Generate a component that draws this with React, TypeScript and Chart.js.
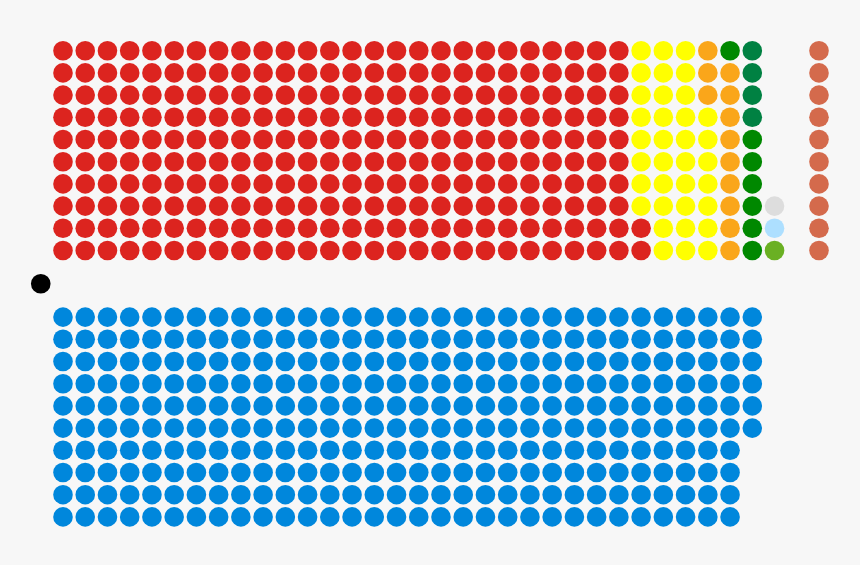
import React, { useEffect, useRef } from 'react';
import { Chart, registerables } from 'chart.js';

Chart.register(...registerables);

// Seats on the opposition benches (filled column by column, bottom to top)
const oppositionParties = ['Labour', 'SNP', 'Liberal Democrats', 'Sinn Féin', 'Plaid Cymru', 'Green', 'Independent', 'Vacant'];
const oppositionSeats = [262, 35, 12, 7, 4, 1, 1, 1];
const oppositionColors = ['#dc241f', '#ffff00', '#faa61a', '#008800', '#008142', '#6ab023', '#addfff', '#dddddd'];

// Government benches (filled column by column, top to bottom)
const governmentParties = ['Conservative'];
const governmentSeats = [316];
const governmentColors = ['#0087dc'];

// Confidence and supply partner, sitting in its own column
const supportParties = ['DUP'];
const supportSeats = [10];
const supportColors = ['#d46a4c'];

// The Speaker
const speakerParties = ['Speaker'];
const speakerSeats = [1];
const speakerColors = ['#000000'];

const ROWS = 10;

type Pt = { x: number; y: number };

// lay seats into a block of ROWS rows starting at a given column and row
function fillBlock(seats: number[], startCol: number, topRow: number, bottomUp: boolean): Pt[][] {
    const out: Pt[][] = [];
    let k = 0;
    seats.forEach((n) => {
        const pts: Pt[] = [];
        for (let i = 0; i < n; i++, k++) {
            const col = startCol + Math.floor(k / ROWS);
            const r = k % ROWS;
            pts.push({ x: col, y: bottomUp ? topRow + ROWS - 1 - r : topRow + r });
        }
        out.push(pts);
    });
    return out;
}

export default function App() {
    const canvasRef = useRef<HTMLCanvasElement>(null);

    useEffect(() => {
        if (!canvasRef.current) return;

        const opp = fillBlock(oppositionSeats, 0, 0, true);
        const gov = fillBlock(governmentSeats, 0, 12, false);
        const sup = fillBlock(supportSeats, 34, 0, false);
        const spk = speakerSeats.map((n) => Array.from({ length: n }, () => ({ x: -1, y: 10.5 })));

        const make = (names: string[], pts: Pt[][], colors: string[]) =>
            names.map((name, i) => ({
                label: name,
                data: pts[i],
                backgroundColor: colors[i],
                borderWidth: 0,
                pointRadius: 9.8,
                pointHoverRadius: 9.8,
            }));

        const chart = new Chart(canvasRef.current, {
            type: 'scatter',
            data: {
                datasets: [
                    ...make(oppositionParties, opp, oppositionColors),
                    ...make(governmentParties, gov, governmentColors),
                    ...make(supportParties, sup, supportColors),
                    ...make(speakerParties, spk, speakerColors),
                ],
            },
            options: {
                animation: false,
                responsive: false,
                events: [],
                layout: { padding: 0, autoPadding: false },
                plugins: {
                    legend: { display: false },
                    tooltip: { enabled: false },
                },
                scales: {
                    x: { type: 'linear', min: -2.833, max: 35.844, display: false },
                    y: { type: 'linear', min: -2.284, max: 23.167, reverse: true, display: false },
                },
            },
        });

        return () => chart.destroy();
    }, []);

    return (
        <div style={{ position: 'fixed', left: 0, top: 0, width: 860, height: 565, background: '#f7f7f7' }}>
            <canvas ref={canvasRef} width={860} height={565}></canvas>
        </div>
    );
}
